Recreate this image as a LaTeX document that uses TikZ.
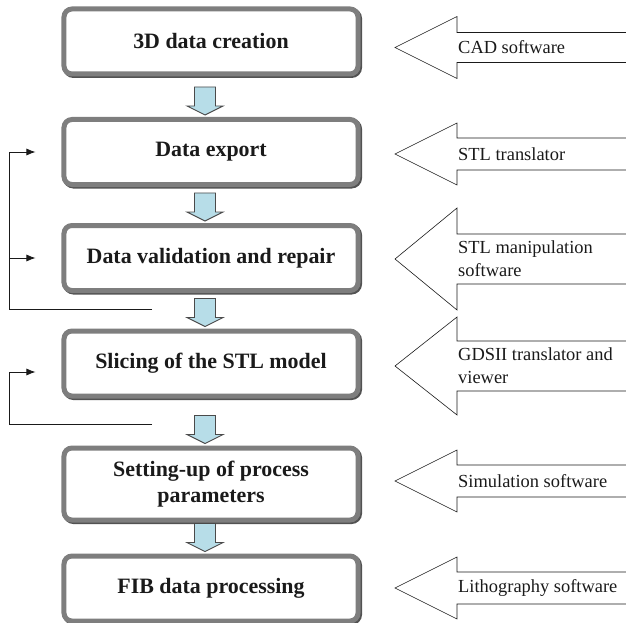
\documentclass[tikz,border=0pt]{standalone}
\usepackage{fontspec}
\setmainfont{Liberation Serif}
\usetikzlibrary{arrows.meta,positioning,calc}
\definecolor{ink}{HTML}{1A1A1A}
\definecolor{bevel}{HTML}{7E7E7E}
\definecolor{beveldk}{HTML}{525252}
\definecolor{flowfill}{HTML}{B7DDE8}
\definecolor{flowline}{HTML}{4A4A4A}
\tikzset{
  stage/.style={draw=bevel,line width=5bp,rounded corners=8bp,fill=white,minimum width=294bp,minimum height=65bp,
    align=center,text=ink,font=\bfseries\fontsize{22}{25.5}\selectfont,
    preaction={draw=beveldk,line width=5bp,transform canvas={shift={(1.5bp,-1.5bp)}}}},
  flow/.style={draw=flowline,line width=.9bp,fill=flowfill,line join=miter},
  fb/.style={draw=ink,line width=.8bp,-{Latex[length=9bp,width=7bp]}},
  tool/.style={draw=ink,line width=.6bp},
  tooltxt/.style={anchor=west,align=left,inner sep=0pt,text=ink,font=\fontsize{18.5}{23}\selectfont},
}

\begin{document}
\begin{tikzpicture}[x=1bp,y=-1bp]
  \useasboundingbox (0,0) rectangle (626,623);
  % ── process steps ──
  \node[stage] (b1) at (211,41.5) {3D data creation};
  \node[stage] (b2) at (211,152) {Data export};
  \node[stage] (b3) at (211,258) {Data validation and repair};
  \node[stage] (b4) at (211,363.5) {Slicing of the STL model};
  \node[stage,minimum height=72bp] (b5) at (211,484) {Setting-up of process\\parameters};
  \node[stage] (b6) at (211,588.5) {FIB data processing};
  % ── block arrows between steps ──
  \foreach \u/\v in {b1/b2,b2/b3,b3/b4,b4/b5,b5/b6}
    \draw[flow] ([xshift=-6bp,yshift=2bp]\v.north) -- ++(18,-9) -- ++(-7.5,0) -- ++(0,-19)
      -- ++(-21,0) -- ++(0,19) -- ++(-7.5,0) -- cycle;
  % ── iteration loops ──
  \coordinate (fb1) at (152,309);
  \coordinate (fb2) at (152,424);
  \draw[fb] (fb1) -| ([xshift=-52bp]b2.west) -- ([xshift=-26bp]b2.west);
  \draw[fb] ([xshift=-52bp]b3.west) -- ([xshift=-26bp]b3.west);
  \draw[fb] (fb2) -| ([xshift=-52bp,yshift=-8.5bp]b4.west) -- ([xshift=-26bp,yshift=-8.5bp]b4.west);
  % ── software tools ──
  \foreach \i/\yc/\hh/\sh/\txt in {1/47.5/31/15/{CAD software},2/154/31/16/{STL translator},
      3/259/51/25/{STL manipulation\\software},4/366/49/25/{GDSII translator and\\viewer},
      5/481/31/16/{Simulation software},6/588/31/16/{Lithography software}}{
    \node[tooltxt] (t\i) at (458,\yc) {\txt};
    \draw[tool] ($(t\i.west)+(200,\sh)$) -- ($(t\i.west)+(-1,\sh)$) -- ++(0,\hh-\sh)
      -- ($(t\i.west)+(-63,0)$) -- ($(t\i.west)+(-1,-\hh)$) -- ++(0,\hh-\sh) -- ++(201,0);
  }
\end{tikzpicture}
\end{document}
